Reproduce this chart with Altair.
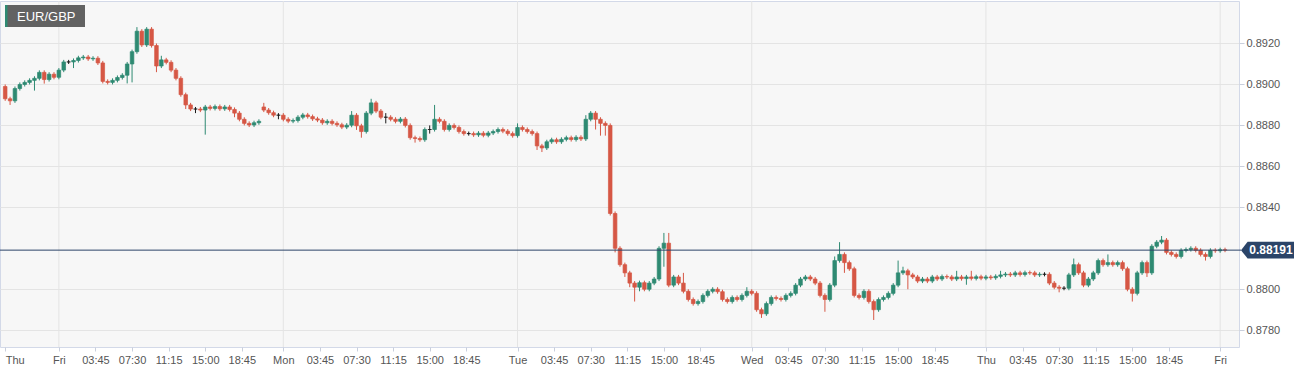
import json
import altair as alt
import pandas as pd

symbol = "EUR/GBP"
base_price = 0.8800
pip = 0.0001

# 30-minute closes, in pips above 0.8800
closes = [
    93, 92, 98, 100, 101, 102, 103, 105.9, 102.4, 105, 103.5, 107, 111, 111, 111.7, 113, 113.4, 112.5, 112.8, 110.5,
    101.5, 101, 102, 103.4, 104.5, 110, 116, 126, 119.3, 127, 119, 109, 112, 110.8, 107, 103, 95, 90, 88, 88,
    87.5, 89, 88.3, 89.2, 88.1, 89, 87.8, 86, 83, 81,
    80.2, 81.3, 82, 87.5, 86.2, 85, 85, 83, 82.1, 82.4,
    84, 85.1, 84.3, 83.2, 82.6, 81.3, 82, 81, 80.3, 79.2,
    80.1, 85, 79.8, 77, 86, 91, 87, 84, 84, 83,
    82, 83.1, 80, 74, 73.6, 73, 78, 78, 83, 82,
    78, 80, 79, 77, 76, 76, 75.4, 76.2, 75.2, 76.3,
    77, 78, 77.2, 76, 75, 79, 78, 77, 76, 70,
    69, 72, 73, 72, 73.2, 74, 73.1, 74.2, 73.4, 83,
    86, 83, 81, 80, 37, 20, 12, 8, 3, 1,
    3.2, 0, 3, 5, 20, 22.5, 2, 6, 3, -1,
    -5, -7, -6, -3, -1, 0, -1.2, -5, -6, -4,
    -5, -3, -1, -2, -10, -12, -7, -4, -4.5, -5,
    -3, -2, 2, 5, 6, 5, 3, -3, -5, 2,
    14, 17, 13, 10, -3, -4, -1, -6, -10, -5,
    -4, -2, 2, 8, 9, 7, 6, 4, 5, 4,
    6, 5, 6.2, 6, 5, 6, 5.2, 6, 5.3, 6.1,
    5.4, 6, 5.6, 6.3, 7, 7.4, 7, 8, 7.2, 8.1,
    8, 7, 7.3, 7.3, 3, 1, 0.5, 0.5, 7, 12,
    8, 2, 5, 8, 14, 12, 13, 12, 13, 10,
    0, -2, 8, 13, 8, 21, 23, 24, 18, 17,
    16, 19, 19.4, 20, 19, 17, 16, 19, 18.8, 19.3, 19.1,
]

# upper wick length above the body, pips
wick_up = [
    1, 1, 1, 1, 1, 1, 1, 1, 1, 1, 1, 1, 1, 1, 1, 1, 1, 1, 1, 1,
    1, 1, 1, 1, 1, 1, 1, 2, 1, 1, 1, 1, 2, 1, 1, 1, 1, 1, 1, 1,
    1, 1, 1, 1, 1, 1, 1, 1, 1, 1,
    1, 1, 1, 2, 1, 1, 1, 1, 1, 1,
    1, 1, 1, 1, 1, 1, 1, 1, 1, 1,
    1, 2, 1, 1, 1, 2, 1, 1, 2, 1,
    1, 1, 1, 1, 1, 1, 1, 2, 7, 1,
    1, 1, 1, 1, 1, 1, 1, 1, 1, 1,
    1, 1, 1, 1, 1, 2, 1, 1, 1, 1,
    1, 1, 1, 1, 1, 1, 1, 1, 1, 2,
    1, 1, 1, 1, 1, 1, 1, 1, 1, 1,
    1, 1, 1, 1, 1, 5, 5, 1, 1, 5,
    1, 1, 1, 1, 1, 1, 1, 1, 1, 1,
    1, 1, 2, 1, 1, 1, 1, 1, 1, 1,
    1, 1, 1, 1, 1, 1, 1, 1, 1, 1,
    2, 6, 1, 1, 1, 1, 1, 1, 1, 1,
    1, 1, 1, 6, 2, 1, 1, 1, 1, 1,
    1, 1, 1, 1, 1, 3, 1, 1, 3, 1,
    1, 1, 1, 1, 2, 1, 1, 1, 1, 1,
    1, 1, 1, 1, 1, 1, 1, 1, 1, 3,
    1, 1, 1, 1, 1, 1, 4, 1, 1, 1,
    1, 1, 1, 1, 1, 1, 1, 2, 1, 1,
    1, 1, 1, 1, 1, 1, 1, 1, 1, 1, 1,
]

# lower wick length below the body, pips
wick_dn = [
    1, 2, 1, 1, 1, 1, 5, 1, 2, 1, 1, 1, 1, 1, 3, 1, 1, 1, 1, 1,
    1, 1, 1, 1, 1, 4, 9, 1, 1, 1, 1, 3, 1, 1, 1, 1, 1, 2, 1, 2,
    1, 12, 1, 1, 1, 1, 1, 2, 1, 1,
    1, 1, 1, 1, 1, 1, 2, 1, 1, 1,
    1, 1, 1, 1, 1, 1, 1, 1, 1, 1,
    1, 1, 2, 3, 1, 1, 1, 1, 3, 1,
    1, 1, 1, 1, 2, 1, 1, 2, 1, 1,
    1, 1, 1, 1, 1, 1, 1, 1, 1, 1,
    1, 1, 1, 1, 1, 1, 1, 1, 1, 2,
    2, 1, 1, 1, 1, 1, 1, 1, 1, 1,
    1, 5, 6, 5, 1, 2, 1, 2, 2, 7,
    2, 1, 1, 1, 1, 9, 1, 1, 1, 1,
    1, 1, 1, 1, 1, 1, 1, 1, 1, 1,
    1, 1, 1, 1, 1, 2, 1, 1, 1, 1,
    1, 1, 1, 1, 1, 1, 1, 1, 6, 1,
    1, 1, 5, 1, 1, 1, 1, 1, 5, 1,
    1, 1, 1, 1, 1, 7, 1, 1, 1, 1,
    1, 1, 1, 1, 1, 1, 1, 3, 1, 1,
    1, 1, 1, 1, 1, 1, 1, 1, 1, 1,
    1, 1, 1, 1, 1, 1, 2, 1, 1, 1,
    1, 1, 1, 1, 1, 1, 1, 1, 1, 1,
    1, 4, 1, 1, 2, 1, 1, 1, 1, 1,
    1, 1, 1, 1, 1, 1, 2, 1, 1, 1, 1,
]

first_open = 99.0
sunday_bar = 53
sunday_open = 89.0
last_price = 0.88191

day_bars = [11, 57, 105, 153, 201, 249]
tick_bars = [0,
             11, 18.5, 26, 33.5, 41, 48.5,
             57, 64.5, 72, 79.5, 87, 94.5,
             105, 112.5, 120, 127.5, 135, 142.5,
             153, 160.5, 168, 175.5, 183, 190.5,
             201, 208.5, 216, 223.5, 231, 238.5,
             249]
hours = ["03:45", "07:30", "11:15", "15:00", "18:45"]
tick_labels = (["Thu"] + ["Fri"] + hours + ["Mon"] + hours + ["Tue"] + hours
               + ["Wed"] + hours + ["Thu"] + hours + ["Fri"])
# 0.8820 sits under the current-price marker and is not shown
y_ticks = [0.878, 0.880, 0.884, 0.886, 0.888, 0.890, 0.892]

UP = "#2e8a72"
DOWN = "#d65745"
FLAT = "#1a1a1a"
NAVY = "#2b4468"

rows = []
for i, c in enumerate(closes):
    if i == 0:
        o = first_open
    elif i == sunday_bar:
        o = sunday_open
    else:
        o = closes[i - 1]
    hi = max(o, c) + wick_up[i]
    lo = min(o, c) - wick_dn[i]
    d = "up" if c > o else ("down" if c < o else "flat")
    rows.append(dict(i=i, open=base_price + o * pip, close=base_price + c * pip,
                     high=base_price + hi * pip, low=base_price + lo * pip, dir=d))
df = pd.DataFrame(rows)

W, H = 1239, 346
xscale = alt.Scale(domain=[-0.04, 251.84], nice=False, zero=False)
yscale = alt.Scale(domain=[0.87718, 0.894075], nice=False, zero=False)
cscale = alt.Scale(domain=["up", "down", "flat"], range=[UP, DOWN, FLAT])

label_expr = f"{json.dumps(tick_labels)}[indexof({json.dumps(tick_bars)}, datum.value)]"

x_axis = alt.Axis(values=tick_bars, labelExpr=label_expr, grid=False, domain=False,
                  ticks=True, tickSize=4, tickColor="#c9cfdc", labelColor="#555555",
                  labelFontSize=11, labelPadding=3, labelOverlap=False,
                  labelAlign={"condition": {"test": "datum.value == 0", "value": "left"},
                              "value": "center"},
                  labelBound=False, title=None)
y_axis = alt.Axis(orient="right", values=y_ticks, format=".4f",
                  grid=True, gridColor="#e4e4e4", domain=False, tickColor="#c9cfdc",
                  tickSize=5, labelColor="#555555", labelFontSize=11, labelPadding=2,
                  title=None)


def X(field):
    return alt.X(field, scale=xscale, axis=x_axis)


def Y(field):
    return alt.Y(field, scale=yscale, axis=y_axis)


days = alt.Chart(pd.DataFrame({"i": day_bars})).mark_rule(color="#e4e4e4", strokeWidth=1).encode(
    x=X("i:Q"))

base = alt.Chart(df)
wicks = base.mark_rule(strokeWidth=1, clip=True).encode(
    x=X("i:Q"),
    y=Y("low:Q"),
    y2="high:Q",
    color=alt.Color("dir:N", scale=cscale, legend=None))
bodies = base.mark_bar(size=3.6, strokeWidth=0.7, clip=True).encode(
    x=X("i:Q"),
    y=Y("open:Q"),
    y2="close:Q",
    color=alt.Color("dir:N", scale=cscale, legend=None),
    stroke=alt.Stroke("dir:N", scale=cscale, legend=None))

last_df = pd.DataFrame({"p": [last_price], "label": [f"{last_price:.5f}"]})
price_line = alt.Chart(last_df).mark_rule(color=NAVY, strokeWidth=1).encode(
    y=Y("p:Q"), x=alt.value(0), x2=alt.value(1241))
box_path = "M-1,0 L-0.75,-0.32 L1,-0.32 L1,0.32 L-0.75,0.32 Z"
price_box = alt.Chart(last_df).mark_point(shape=box_path, size=2809, filled=True,
                                          color=NAVY, opacity=1, strokeWidth=0).encode(
    y=Y("p:Q"), x=alt.value(1267.5))
price_text = alt.Chart(last_df).mark_text(color="white", fontWeight="bold", fontSize=12,
                                          align="center", baseline="middle").encode(
    y=Y("p:Q"), x=alt.value(1271), text="label:N")

title_df = pd.DataFrame({"t": [symbol]})
title_box = alt.Chart(title_df).mark_rect(color="#626262").encode(
    x=alt.value(5), x2=alt.value(85), y=alt.value(4), y2=alt.value(26))
title_stripe = alt.Chart(title_df).mark_rect(color=UP).encode(
    x=alt.value(5), x2=alt.value(7.5), y=alt.value(4), y2=alt.value(26))
title_text = alt.Chart(title_df).mark_text(color="white", fontSize=13, align="left",
                                           baseline="middle").encode(
    x=alt.value(17), y=alt.value(15.5), text="t:N")

chart = alt.layer(days, wicks, bodies, price_line, price_box, price_text,
                  title_box, title_stripe, title_text).properties(
    width=W, height=H,
    autosize=alt.AutoSizeParams(type="none"),
    padding={"left": 0, "top": 1, "right": 1310 - W, "bottom": 373 - H - 1},
).configure(font="Liberation Sans", background="white").configure_view(
    fill="#f7f7f7", stroke="#d3d9e8", strokeWidth=1)

chart.save("out.html", embed_options={"renderer": "svg", "actions": False})
